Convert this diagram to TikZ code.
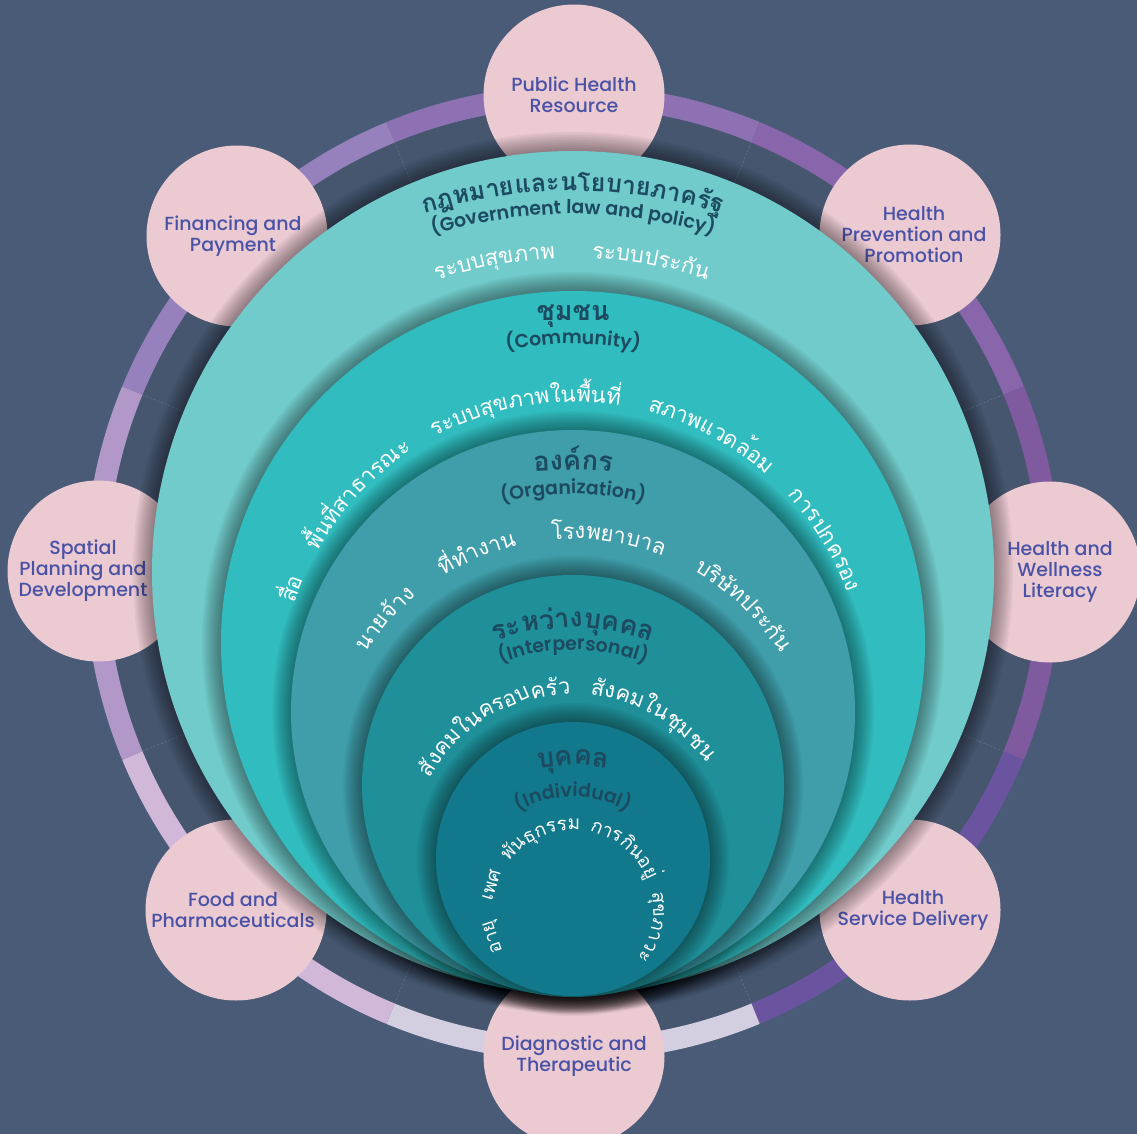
\documentclass[tikz,border=0pt]{standalone}
\usepackage{fontspec}
\setmainfont{Poppins}
\newfontfamily\thai[Script=Thai]{Loma}
\newfontfamily\pinkfont{Poppins Medium}
\newfontfamily\subfamily{Poppins SemiBold}
\usetikzlibrary{decorations.text}

\definecolor{bgblue}{HTML}{4A5B78}
\definecolor{innerblue}{HTML}{46566F}
\definecolor{ringtop}{HTML}{8D71B3}
\definecolor{ringtr}{HTML}{8966AC}
\definecolor{ringr}{HTML}{7F5A9F}
\definecolor{ringbr}{HTML}{6A54A0}
\definecolor{ringb}{HTML}{D3CFE0}
\definecolor{ringbl}{HTML}{D2B8D8}
\definecolor{ringl}{HTML}{B198C8}
\definecolor{ringtl}{HTML}{9781BC}
\definecolor{pinkbg}{HTML}{EBCAD2}
\definecolor{pinkink}{HTML}{4A52A6}
\definecolor{gov}{HTML}{71CBCB}
\definecolor{comm}{HTML}{31BDC0}
\definecolor{org}{HTML}{3F9EA9}
\definecolor{inter}{HTML}{1F8F99}
\definecolor{indiv}{HTML}{12788B}
\definecolor{headink}{HTML}{1C4B61}

\newcommand{\govfont}{\thai\bfseries\fontsize{25}{28}\selectfont}
\newcommand{\headfont}{\thai\bfseries\fontsize{27}{30}\selectfont}
\newcommand{\subfont}{\subfamily\fontsize{19}{21}\selectfont}
\newcommand{\wordfont}{\thai\fontsize{22}{24}\selectfont}
\newcommand{\smallword}{\thai\fontsize{19}{21}\selectfont}

% words set along an arc: centre, radius, middle angle, half span, colour, text
\newcommand{\arcwords}[6]{%
  \path[decorate,decoration={text along path,text align=center,text color=#5,text={#6}}]
    (#1) ++(#3+#4:#2) arc[start angle=#3+#4,end angle=#3-#4,radius=#2];}

\begin{document}
\begin{tikzpicture}[x=1pt,y=1pt,
  pinkdot/.style={circle,fill=pinkbg,minimum size=181,inner sep=0},
  pinktxt/.style={font=\pinkfont\fontsize{19}{21}\selectfont,text=pinkink,align=center}]
\useasboundingbox (0,0) rectangle (1137,-1134);
\fill[bgblue] (0,0) rectangle (1137,-1134);
\fill[innerblue] (573,-573) circle[radius=466];

% outer ring
\foreach \a/\c in {90/ringtop,45/ringtr,0/ringr,-45/ringbr,-90/ringb,-135/ringbl,180/ringl,135/ringtl}
  \draw[\c,line width=22] (573,-573) ++(\a-22.5:477) arc[start angle=\a-22.5,end angle=\a+22.5,radius=477];
\foreach \a in {22.5,67.5,...,337.5}
  \draw[white,opacity=0.15,line width=0.6,dash pattern=on 2pt off 2pt] (573,-573) ++(\a:466) -- ++(\a:-48);

% pink circles
\node[pinkdot,label={[pinktxt]center:Public Health\\Resource}] (res) at (574,-95) {};
\node[pinkdot,label={[pinktxt,xshift=4]center:Health\\Prevention and\\Promotion}] (prev) at (910,-235) {};
\node[pinkdot,label={[pinktxt,xshift=10]center:Health and\\Wellness\\Literacy}] (lit) at (1050,-572) {};
\node[pinkdot,label={[pinktxt,xshift=3]center:Health\\Service Delivery}] (serv) at (910,-910) {};
\node[pinkdot,label={[pinktxt]center:Diagnostic and\\Therapeutic}] (diag) at (574,-1056) {};
\node[pinkdot,label={[pinktxt,xshift=-3]center:Food and\\Pharmaceuticals}] (food) at (236,-910) {};
\node[pinkdot,label={[pinktxt,xshift=-15]center:Spatial\\Planning and\\Development}] (spat) at (98,-571) {};
\node[pinkdot,label={[pinktxt,xshift=-4]center:Financing and\\Payment}] (fin) at (237,-236) {};

% nested circles with soft shadow
\foreach \cy/\r/\c in {572/421/gov,643/352/comm,712/282/org,786/211/inter,859/137/indiv}{
  \foreach \k in {1,...,12}
    \fill[black,opacity=0.035] (573,-\cy) circle[radius=\r+\k*1.6];
  \fill[\c] (573,-\cy) circle[radius=\r];
}

% government
\arcwords{573,-685}{494}{90}{40}{headink}{|\govfont|{กฎ}{หมาย}{และ}{นโย}{บาย}{ภาค}{รัฐ}}
\arcwords{573,-685}{471}{90}{40}{headink}{|\subfont|{(Gov}{ern}{ment} {law} {and} {pol}{icy)}}
\arcwords{573,-685}{427}{100.5}{14}{white}{|\wordfont|{ระ}{บบ}{สุข}{ภาพ}}
\arcwords{573,-685}{427}{79.6}{14}{white}{|\wordfont|{ระ}{บบ}{ประ}{กัน}}

% community
\arcwords{573,-695}{375}{90}{30}{headink}{|\headfont|{ชุมชน}}
\arcwords{573,-695}{351}{90}{30}{headink}{|\subfont|{(Com}{mu}{nity)}}
\arcwords{573,-695}{293}{99.5}{30}{white}{|\wordfont|{ระ}{บบ}{สุข}{ภาพ}{ใน}{พื้น}{ที่}}
\arcwords{573,-695}{293}{62}{25}{white}{|\wordfont|{สภาพ}{แวด}{ล้อม}}
\arcwords{573,-695}{293}{31.7}{25}{white}{|\wordfont|{การ}{ปก}{ครอง}}
\arcwords{573,-695}{293}{137}{22}{white}{|\wordfont|{พื้น}{ที่}{สา}{ธา}{รณะ}}
\arcwords{573,-695}{293}{159.3}{10}{white}{|\wordfont|{สื่อ}}

% organization
\arcwords{573,-784}{314}{90}{30}{headink}{|\headfont|{องค์}{กร}}
\arcwords{573,-784}{290}{90}{30}{headink}{|\subfont|{(Or}{ga}{ni}{za}{tion)}}
\arcwords{573,-784}{245}{112.5}{20}{white}{|\wordfont|{ที่}{ทำ}{งาน}}
\arcwords{573,-784}{245}{81.8}{20}{white}{|\wordfont|{โรง}{พยา}{บาล}}
\arcwords{573,-784}{245}{46.3}{25}{white}{|\wordfont|{บริ}{ษัท}{ประ}{กัน}}
\arcwords{573,-784}{245}{138.7}{20}{white}{|\wordfont|{นาย}{จ้าง}}

% interpersonal
\arcwords{573,-857}{229}{90}{40}{headink}{|\headfont|{ระ}{หว่าง}{บุค}{คล}}
\arcwords{573,-857}{207}{90}{40}{headink}{|\subfont|{(In}{ter}{per}{so}{nal)}}
\arcwords{573,-857}{163}{121}{40}{white}{|\wordfont|{สัง}{คม}{ใน}{ครอบ}{ครัว}}
\arcwords{573,-857}{163}{59.6}{35}{white}{|\wordfont|{สัง}{คม}{ใน}{ชุม}{ชน}}

% individual
\arcwords{573,-910}{145}{90}{40}{headink}{|\headfont|{บุค}{คล}}
\arcwords{573,-910}{113}{90}{55}{headink}{|\subfont|(Individual)}
\arcwords{573,-910}{80}{114}{45}{white}{|\smallword|{พัน}{ธุ}{กรรม}}
\arcwords{573,-910}{80}{50}{45}{white}{|\smallword|{การ}{กิน}{อยู่}}
\arcwords{573,-910}{80}{163}{20}{white}{|\smallword|{เพศ}}
\arcwords{573,-910}{80}{198.6}{20}{white}{|\smallword|{อายุ}}
\arcwords{573,-910}{80}{-12}{35}{white}{|\smallword|{สุข}{ภา}{วะ}}
\end{tikzpicture}
\end{document}
